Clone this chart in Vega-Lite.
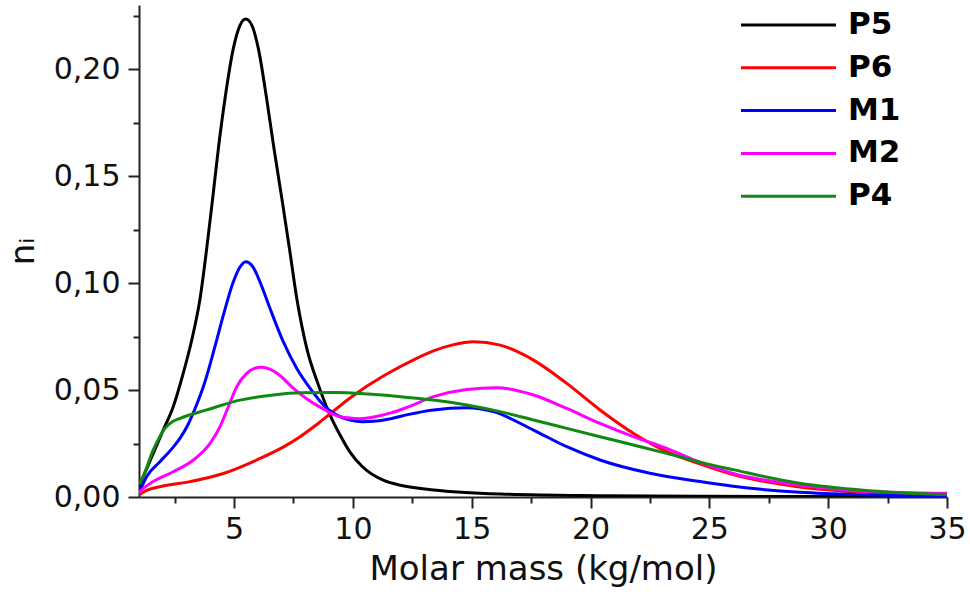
{
  "$schema": "https://vega.github.io/schema/vega-lite/v6.json",
  "width": 808,
  "height": 492,
  "autosize": {"type": "none"},
  "padding": {"left": 139, "top": 5, "right": 23, "bottom": 97},
  "background": "white",
  "data": {
    "values": [
      {"sample": "P5", "mass": 1.0, "ni": 0.005},
      {"sample": "P5", "mass": 1.18, "ni": 0.0095},
      {"sample": "P5", "mass": 1.6, "ni": 0.0204},
      {"sample": "P5", "mass": 2.02, "ni": 0.0313},
      {"sample": "P5", "mass": 2.44, "ni": 0.0422},
      {"sample": "P5", "mass": 2.86, "ni": 0.0578},
      {"sample": "P5", "mass": 3.22, "ni": 0.0734},
      {"sample": "P5", "mass": 3.57, "ni": 0.0928},
      {"sample": "P5", "mass": 3.85, "ni": 0.1162},
      {"sample": "P5", "mass": 4.1, "ni": 0.1396},
      {"sample": "P5", "mass": 4.34, "ni": 0.1629},
      {"sample": "P5", "mass": 4.62, "ni": 0.1863},
      {"sample": "P5", "mass": 4.97, "ni": 0.2097},
      {"sample": "P5", "mass": 5.25, "ni": 0.2205},
      {"sample": "P5", "mass": 5.49, "ni": 0.2234},
      {"sample": "P5", "mass": 5.75, "ni": 0.2205},
      {"sample": "P5", "mass": 6.02, "ni": 0.2097},
      {"sample": "P5", "mass": 6.37, "ni": 0.1863},
      {"sample": "P5", "mass": 6.68, "ni": 0.1629},
      {"sample": "P5", "mass": 7.01, "ni": 0.1396},
      {"sample": "P5", "mass": 7.33, "ni": 0.1162},
      {"sample": "P5", "mass": 7.64, "ni": 0.0928},
      {"sample": "P5", "mass": 8.06, "ni": 0.0695},
      {"sample": "P5", "mass": 8.55, "ni": 0.0523},
      {"sample": "P5", "mass": 9.04, "ni": 0.0383},
      {"sample": "P5", "mass": 9.46, "ni": 0.029},
      {"sample": "P5", "mass": 9.88, "ni": 0.021},
      {"sample": "P5", "mass": 10.37, "ni": 0.0145},
      {"sample": "P5", "mass": 11.35, "ni": 0.0075},
      {"sample": "P5", "mass": 12.0, "ni": 0.0055},
      {"sample": "P5", "mass": 13.4, "ni": 0.0033},
      {"sample": "P5", "mass": 16.2, "ni": 0.0014},
      {"sample": "P5", "mass": 20.4, "ni": 0.0006},
      {"sample": "P5", "mass": 25, "ni": 0.0003},
      {"sample": "P5", "mass": 30, "ni": 0.0002},
      {"sample": "P5", "mass": 35, "ni": 0.0001},

      {"sample": "P6", "mass": 1.0, "ni": 0.001},
      {"sample": "P6", "mass": 1.3, "ni": 0.003},
      {"sample": "P6", "mass": 1.88, "ni": 0.0048},
      {"sample": "P6", "mass": 3.15, "ni": 0.0072},
      {"sample": "P6", "mass": 4.55, "ni": 0.011},
      {"sample": "P6", "mass": 5.95, "ni": 0.0173},
      {"sample": "P6", "mass": 7.14, "ni": 0.0238},
      {"sample": "P6", "mass": 7.78, "ni": 0.0282},
      {"sample": "P6", "mass": 8.55, "ni": 0.0345},
      {"sample": "P6", "mass": 9.95, "ni": 0.0469},
      {"sample": "P6", "mass": 11.35, "ni": 0.057},
      {"sample": "P6", "mass": 12.62, "ni": 0.0645},
      {"sample": "P6", "mass": 13.39, "ni": 0.0683},
      {"sample": "P6", "mass": 14.2, "ni": 0.0711},
      {"sample": "P6", "mass": 15.07, "ni": 0.0726},
      {"sample": "P6", "mass": 16.19, "ni": 0.071},
      {"sample": "P6", "mass": 17.6, "ni": 0.064},
      {"sample": "P6", "mass": 19.0, "ni": 0.0531},
      {"sample": "P6", "mass": 20.4, "ni": 0.0407},
      {"sample": "P6", "mass": 21.8, "ni": 0.0298},
      {"sample": "P6", "mass": 23.2, "ni": 0.0212},
      {"sample": "P6", "mass": 24.6, "ni": 0.0155},
      {"sample": "P6", "mass": 26, "ni": 0.0105},
      {"sample": "P6", "mass": 28.8, "ni": 0.0047},
      {"sample": "P6", "mass": 31.6, "ni": 0.0022},
      {"sample": "P6", "mass": 35, "ni": 0.0012},

      {"sample": "M1", "mass": 1.0, "ni": 0.003},
      {"sample": "M1", "mass": 1.11, "ni": 0.0048},
      {"sample": "M1", "mass": 1.32, "ni": 0.0095},
      {"sample": "M1", "mass": 1.88, "ni": 0.0165},
      {"sample": "M1", "mass": 2.38, "ni": 0.0225},
      {"sample": "M1", "mass": 2.73, "ni": 0.0275},
      {"sample": "M1", "mass": 3.07, "ni": 0.034},
      {"sample": "M1", "mass": 3.29, "ni": 0.0395},
      {"sample": "M1", "mass": 3.78, "ni": 0.054},
      {"sample": "M1", "mass": 4.2, "ni": 0.0705},
      {"sample": "M1", "mass": 4.55, "ni": 0.085},
      {"sample": "M1", "mass": 4.97, "ni": 0.1006},
      {"sample": "M1", "mass": 5.25, "ni": 0.1075},
      {"sample": "M1", "mass": 5.49, "ni": 0.11},
      {"sample": "M1", "mass": 5.8, "ni": 0.1075},
      {"sample": "M1", "mass": 6.09, "ni": 0.1006},
      {"sample": "M1", "mass": 6.51, "ni": 0.0882},
      {"sample": "M1", "mass": 7.07, "ni": 0.0726},
      {"sample": "M1", "mass": 7.64, "ni": 0.0601},
      {"sample": "M1", "mass": 8.2, "ni": 0.0508},
      {"sample": "M1", "mass": 8.76, "ni": 0.043},
      {"sample": "M1", "mass": 9.32, "ni": 0.0383},
      {"sample": "M1", "mass": 9.88, "ni": 0.036},
      {"sample": "M1", "mass": 10.4, "ni": 0.0352},
      {"sample": "M1", "mass": 11.0, "ni": 0.0355},
      {"sample": "M1", "mass": 11.6, "ni": 0.0366},
      {"sample": "M1", "mass": 12.3, "ni": 0.0385},
      {"sample": "M1", "mass": 13.39, "ni": 0.0407},
      {"sample": "M1", "mass": 14.79, "ni": 0.0417},
      {"sample": "M1", "mass": 15.91, "ni": 0.0399},
      {"sample": "M1", "mass": 17.6, "ni": 0.0313},
      {"sample": "M1", "mass": 19.0, "ni": 0.0235},
      {"sample": "M1", "mass": 20.4, "ni": 0.0173},
      {"sample": "M1", "mass": 22.5, "ni": 0.0111},
      {"sample": "M1", "mass": 24.6, "ni": 0.0072},
      {"sample": "M1", "mass": 26, "ni": 0.005},
      {"sample": "M1", "mass": 28.8, "ni": 0.0022},
      {"sample": "M1", "mass": 31.6, "ni": 0.001},
      {"sample": "M1", "mass": 35, "ni": 0.0004},

      {"sample": "M2", "mass": 1.0, "ni": 0.002},
      {"sample": "M2", "mass": 1.11, "ni": 0.0033},
      {"sample": "M2", "mass": 1.6, "ni": 0.0072},
      {"sample": "M2", "mass": 2.44, "ni": 0.0118},
      {"sample": "M2", "mass": 3.29, "ni": 0.0173},
      {"sample": "M2", "mass": 3.99, "ni": 0.0251},
      {"sample": "M2", "mass": 4.41, "ni": 0.0329},
      {"sample": "M2", "mass": 4.76, "ni": 0.0422},
      {"sample": "M2", "mass": 5.11, "ni": 0.0515},
      {"sample": "M2", "mass": 5.53, "ni": 0.0578},
      {"sample": "M2", "mass": 5.85, "ni": 0.0601},
      {"sample": "M2", "mass": 6.16, "ni": 0.0606},
      {"sample": "M2", "mass": 6.5, "ni": 0.0598},
      {"sample": "M2", "mass": 6.93, "ni": 0.0568},
      {"sample": "M2", "mass": 7.43, "ni": 0.0515},
      {"sample": "M2", "mass": 7.64, "ni": 0.0495},
      {"sample": "M2", "mass": 8.13, "ni": 0.0453},
      {"sample": "M2", "mass": 8.83, "ni": 0.0407},
      {"sample": "M2", "mass": 9.25, "ni": 0.0383},
      {"sample": "M2", "mass": 9.8, "ni": 0.037},
      {"sample": "M2", "mass": 10.3, "ni": 0.0366},
      {"sample": "M2", "mass": 10.93, "ni": 0.0375},
      {"sample": "M2", "mass": 11.6, "ni": 0.0393},
      {"sample": "M2", "mass": 12.3, "ni": 0.042},
      {"sample": "M2", "mass": 13.39, "ni": 0.0469},
      {"sample": "M2", "mass": 14.79, "ni": 0.0503},
      {"sample": "M2", "mass": 16.05, "ni": 0.0511},
      {"sample": "M2", "mass": 17.6, "ni": 0.0477},
      {"sample": "M2", "mass": 19.0, "ni": 0.0414},
      {"sample": "M2", "mass": 20.4, "ni": 0.0344},
      {"sample": "M2", "mass": 21.8, "ni": 0.0282},
      {"sample": "M2", "mass": 23.2, "ni": 0.0227},
      {"sample": "M2", "mass": 24.6, "ni": 0.0163},
      {"sample": "M2", "mass": 26, "ni": 0.011},
      {"sample": "M2", "mass": 28.8, "ni": 0.0056},
      {"sample": "M2", "mass": 31.6, "ni": 0.0026},
      {"sample": "M2", "mass": 35, "ni": 0.0017},

      {"sample": "P4", "mass": 1.0, "ni": 0.006},
      {"sample": "P4", "mass": 1.11, "ni": 0.008},
      {"sample": "P4", "mass": 1.6, "ni": 0.022},
      {"sample": "P4", "mass": 2.09, "ni": 0.0321},
      {"sample": "P4", "mass": 2.4, "ni": 0.0352},
      {"sample": "P4", "mass": 2.73, "ni": 0.0368},
      {"sample": "P4", "mass": 3.85, "ni": 0.0407},
      {"sample": "P4", "mass": 5.25, "ni": 0.0453},
      {"sample": "P4", "mass": 6.65, "ni": 0.0477},
      {"sample": "P4", "mass": 7.78, "ni": 0.0487},
      {"sample": "P4", "mass": 9.25, "ni": 0.0488},
      {"sample": "P4", "mass": 10.65, "ni": 0.0481},
      {"sample": "P4", "mass": 12.0, "ni": 0.0469},
      {"sample": "P4", "mass": 13.39, "ni": 0.0453},
      {"sample": "P4", "mass": 14.79, "ni": 0.043},
      {"sample": "P4", "mass": 16.19, "ni": 0.0399},
      {"sample": "P4", "mass": 17.6, "ni": 0.036},
      {"sample": "P4", "mass": 19.0, "ni": 0.0321},
      {"sample": "P4", "mass": 20.4, "ni": 0.0282},
      {"sample": "P4", "mass": 21.8, "ni": 0.0243},
      {"sample": "P4", "mass": 23.2, "ni": 0.0204},
      {"sample": "P4", "mass": 24.6, "ni": 0.0163},
      {"sample": "P4", "mass": 26, "ni": 0.0128},
      {"sample": "P4", "mass": 28.8, "ni": 0.0064},
      {"sample": "P4", "mass": 31.6, "ni": 0.003},
      {"sample": "P4", "mass": 35, "ni": 0.001}
    ]
  },
  "mark": {"type": "line", "interpolate": "monotone", "strokeWidth": 3, "clip": true},
  "encoding": {
    "x": {
      "field": "mass",
      "type": "quantitative",
      "scale": {"domain": [1, 35], "nice": false, "zero": false},
      "axis": {
        "title": "Molar mass (kg/mol)",
        "values": [2.5, 5, 7.5, 10, 12.5, 15, 17.5, 20, 22.5, 25, 27.5, 30, 32.5, 35],
        "labelExpr": "datum.value % 5 == 0 ? datum.label : ''",
        "tickSize": {"condition": {"test": "datum.value % 5 != 0", "value": 6}, "value": 11},
        "labelPadding": 6,
        "titleFontSize": 34,
        "titlePadding": 8
      }
    },
    "y": {
      "field": "ni",
      "type": "quantitative",
      "scale": {"domain": [0, 0.23], "nice": false},
      "axis": {
        "title": "nᵢ",
        "values": [0, 0.025, 0.05, 0.075, 0.1, 0.125, 0.15, 0.175, 0.2, 0.225],
        "labelExpr": "abs(datum.value * 20 - round(datum.value * 20)) < 0.001 ? replace(format(datum.value, '.2f'), '.', ',') : ''",
        "tickSize": {"condition": {"test": "abs(datum.value * 20 - round(datum.value * 20)) > 0.001", "value": 6}, "value": 11},
        "labelPadding": 8,
        "titleFontSize": 34,
        "titleX": -116,
        "titleY": 246,
        "titleAlign": "center",
        "titleBaseline": "middle"
      }
    },
    "color": {
      "field": "sample",
      "type": "nominal",
      "scale": {
        "domain": ["P5", "P6", "M1", "M2", "P4"],
        "range": ["#000000", "#ff0000", "#0000ff", "#ff00ff", "#118811"]
      },
      "legend": {
        "title": null,
        "orient": "none",
        "legendX": 602,
        "legendY": 4.5,
        "padding": 0,
        "symbolType": "M-5,0H5",
        "symbolSize": 361,
        "symbolStrokeWidth": 3,
        "symbolOffset": 32,
        "labelOffset": 44,
        "labelFont": "DejaVu Sans",
        "labelFontWeight": "bold",
        "labelFontSize": 31,
        "labelColor": "#000000",
        "rowPadding": 10.8
      }
    }
  },
  "config": {
    "view": {"stroke": null},
    "axis": {
      "grid": false,
      "domainColor": "#222222",
      "domainWidth": 2,
      "tickColor": "#222222",
      "tickWidth": 2,
      "labelFont": "DejaVu Sans",
      "labelFontSize": 30,
      "labelColor": "#111111",
      "labelFlush": false,
      "labelOverlap": false,
      "titleFont": "DejaVu Sans",
      "titleFontSize": 32,
      "titleFontWeight": "normal",
      "titleColor": "#111111"
    }
  }
}
